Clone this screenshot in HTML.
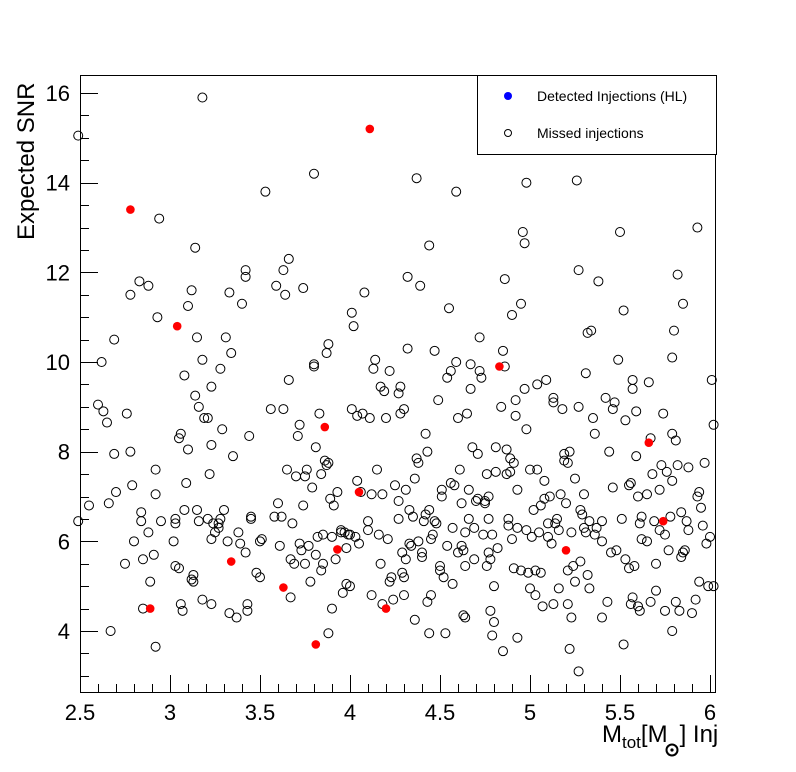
<!DOCTYPE html>
<html><head><meta charset="utf-8"><style>
html,body{margin:0;padding:0;background:#fff;}
svg{display:block;font-family:"Liberation Sans",sans-serif;}
</style></head><body>
<svg id="chart" width="796" height="772" viewBox="0 0 796 772">
<rect x="0" y="0" width="796" height="772" fill="#fff"/>
<g id="axes"></g>
<g id="points"></g>
<g id="legend">
<rect x="477.5" y="75.5" width="239" height="79" fill="#fff" stroke="#000" stroke-width="1"/>
<circle cx="508" cy="96" r="4" fill="#0000ff"/>
<text x="537" y="101" font-size="14">Detected Injections (HL)</text>
<circle cx="508" cy="133" r="3.5" fill="none" stroke="#000"/>
<text x="537" y="138" font-size="14">Missed injections</text>
</g>
<text transform="translate(34,240) rotate(-90)" font-size="24">Expected SNR</text>
<g font-size="24">
<text x="602" y="742">M<tspan font-size="17" dy="6">tot</tspan><tspan dy="-6">[M</tspan><tspan dx="12">] Inj</tspan></text>
<circle cx="672" cy="750" r="5.5" fill="none" stroke="#000" stroke-width="2"/><circle cx="672" cy="750" r="1.6" fill="#000"/>
</g>
</svg>
<script>
const xTicks=[2.5,3,3.5,4,4.5,5,5.5,6];
const xTickLabels=["2.5","3","3.5","4","4.5","5","5.5","6"];
const yTicks=[4,6,8,10,12,14,16];
const yTickLabels=["4","6","8","10","12","14","16"];
const detectedX=[2.78,3.04,2.89,3.34,3.63,3.81,3.86,3.93,4.05,4.11,4.2,4.83,5.2,5.66,5.74];
const detectedY=[13.4,10.8,4.5,5.55,4.97,3.7,8.55,5.82,7.1,15.2,4.5,9.9,5.8,8.2,6.45];
const missed=[[2.49,15.05],[2.49,6.45],[2.55,6.8],[2.6,9.05],[2.62,10.0],[2.63,8.9],[2.65,8.65],[2.66,6.85],[2.67,4.0],[2.69,10.5],[2.69,7.95],[2.7,7.1],[2.75,5.5],[2.76,8.85],[2.78,11.5],[2.78,8.0],[2.79,7.25],[2.8,6.0],[2.83,11.8],[2.84,6.65],[2.84,6.45],[2.85,5.6],[2.85,4.5],[2.88,11.7],[2.88,6.2],[2.89,5.1],[2.91,5.7],[2.92,7.6],[2.92,7.05],[2.92,3.65],[2.93,11.0],[2.94,13.2],[2.95,6.45],[3.02,6.0],[3.03,6.5],[3.03,6.4],[3.03,5.45],[3.05,5.4],[3.05,8.3],[3.06,8.4],[3.06,4.6],[3.07,4.45],[3.08,6.7],[3.08,9.7],[3.09,7.3],[3.1,8.05],[3.1,11.25],[3.12,11.6],[3.12,5.15],[3.13,5.25],[3.13,5.1],[3.14,12.55],[3.14,9.25],[3.15,6.7],[3.15,10.55],[3.16,9.0],[3.16,6.45],[3.18,15.9],[3.18,10.05],[3.18,4.7],[3.19,8.75],[3.21,6.5],[3.21,8.75],[3.22,7.5],[3.23,6.05],[3.23,9.45],[3.23,8.15],[3.23,4.6],[3.24,6.4],[3.25,6.2],[3.27,6.3],[3.27,6.4],[3.28,9.85],[3.28,6.5],[3.29,8.5],[3.3,6.7],[3.31,10.55],[3.32,6.0],[3.33,11.55],[3.33,4.4],[3.34,10.2],[3.35,7.9],[3.37,4.3],[3.38,6.2],[3.39,5.95],[3.4,11.3],[3.42,11.9],[3.42,12.05],[3.42,5.75],[3.43,4.45],[3.43,4.6],[3.44,8.35],[3.45,6.5],[3.45,6.55],[3.48,5.3],[3.5,6.0],[3.5,5.2],[3.51,6.05],[3.53,13.8],[3.56,8.95],[3.58,6.55],[3.59,11.7],[3.6,6.85],[3.61,5.9],[3.62,6.55],[3.63,12.05],[3.63,8.95],[3.64,11.5],[3.65,7.6],[3.66,12.3],[3.66,9.6],[3.67,5.6],[3.67,4.75],[3.68,6.4],[3.69,5.5],[3.7,7.45],[3.71,8.35],[3.72,5.95],[3.72,8.6],[3.73,5.8],[3.74,11.65],[3.74,6.8],[3.75,7.45],[3.75,5.5],[3.76,7.6],[3.77,5.9],[3.78,5.1],[3.79,7.2],[3.8,9.9],[3.8,9.95],[3.8,14.2],[3.81,8.1],[3.81,5.7],[3.82,6.1],[3.83,8.85],[3.84,7.5],[3.84,5.35],[3.85,6.15],[3.85,5.5],[3.86,7.8],[3.87,7.7],[3.87,10.2],[3.88,10.4],[3.88,7.75],[3.88,3.95],[3.89,6.95],[3.9,4.5],[3.9,6.1],[3.91,6.8],[3.92,5.6],[3.93,7.1],[3.95,6.2],[3.95,6.25],[3.96,4.85],[3.97,6.2],[3.98,5.85],[3.98,5.05],[3.99,6.15],[4.0,5.0],[4.0,6.15],[4.01,8.95],[4.01,11.1],[4.02,10.8],[4.03,6.1],[4.04,8.8],[4.04,7.35],[4.05,5.95],[4.06,7.1],[4.07,8.85],[4.08,11.55],[4.1,6.45],[4.1,6.25],[4.11,8.75],[4.12,7.05],[4.12,4.8],[4.13,9.85],[4.14,10.05],[4.15,7.6],[4.16,6.15],[4.17,9.45],[4.17,5.5],[4.18,7.05],[4.18,4.6],[4.19,9.35],[4.2,8.75],[4.21,6.05],[4.22,9.8],[4.22,5.1],[4.23,5.2],[4.24,4.7],[4.25,7.25],[4.27,9.3],[4.27,6.9],[4.27,6.5],[4.28,9.45],[4.28,8.85],[4.29,5.75],[4.29,5.3],[4.3,8.95],[4.3,4.8],[4.3,5.2],[4.31,7.15],[4.31,5.6],[4.32,10.3],[4.32,11.9],[4.33,6.7],[4.33,5.95],[4.34,5.9],[4.35,6.55],[4.36,4.25],[4.36,7.4],[4.37,7.85],[4.37,14.1],[4.38,7.75],[4.38,6.0],[4.39,11.7],[4.4,5.65],[4.4,5.75],[4.41,6.45],[4.42,6.6],[4.42,8.4],[4.43,4.65],[4.43,8.0],[4.44,12.6],[4.44,6.7],[4.44,3.95],[4.45,6.05],[4.45,4.8],[4.46,6.15],[4.47,10.25],[4.47,6.45],[4.48,6.4],[4.49,9.15],[4.5,5.45],[4.5,5.35],[4.51,7.0],[4.51,7.15],[4.52,5.2],[4.53,3.95],[4.54,5.9],[4.54,9.65],[4.55,11.2],[4.56,7.3],[4.56,9.8],[4.57,6.3],[4.57,5.05],[4.58,7.25],[4.59,10.0],[4.59,13.8],[4.6,8.75],[4.6,5.75],[4.61,7.6],[4.62,6.85],[4.62,5.9],[4.63,5.8],[4.63,4.35],[4.64,4.3],[4.64,6.2],[4.64,5.45],[4.65,8.85],[4.66,7.15],[4.66,6.5],[4.67,9.95],[4.67,9.4],[4.68,8.1],[4.69,5.6],[4.69,6.3],[4.7,6.9],[4.71,6.95],[4.71,7.95],[4.72,9.8],[4.72,10.55],[4.73,9.65],[4.74,6.15],[4.75,6.9],[4.75,6.85],[4.76,7.5],[4.76,5.45],[4.77,5.75],[4.77,7.0],[4.77,6.5],[4.78,5.6],[4.78,4.45],[4.79,3.9],[4.79,6.15],[4.8,5.0],[4.8,4.2],[4.81,8.1],[4.81,7.55],[4.82,5.85],[4.84,9.0],[4.85,3.55],[4.85,10.25],[4.86,9.9],[4.86,11.85],[4.87,7.5],[4.87,8.05],[4.88,6.5],[4.88,6.35],[4.89,7.55],[4.89,7.85],[4.9,11.05],[4.9,6.05],[4.91,7.75],[4.91,5.4],[4.92,9.15],[4.92,8.8],[4.93,7.15],[4.93,6.3],[4.93,3.85],[4.95,5.35],[4.95,11.3],[4.96,12.9],[4.97,12.65],[4.97,9.4],[4.98,6.25],[4.98,8.5],[4.98,14.0],[4.99,5.3],[5.0,4.95],[5.0,7.6],[5.01,6.1],[5.02,6.7],[5.03,4.8],[5.03,5.35],[5.04,9.5],[5.04,7.6],[5.05,6.2],[5.06,6.8],[5.06,5.3],[5.07,4.55],[5.08,7.35],[5.08,6.95],[5.09,9.6],[5.1,6.1],[5.1,6.4],[5.11,7.0],[5.12,5.95],[5.13,4.6],[5.13,9.1],[5.13,9.2],[5.14,6.4],[5.15,6.5],[5.16,6.25],[5.16,4.95],[5.17,7.05],[5.18,8.95],[5.19,7.95],[5.19,7.8],[5.2,6.85],[5.21,5.35],[5.21,7.75],[5.21,4.6],[5.22,3.6],[5.22,8.0],[5.23,4.3],[5.23,6.2],[5.24,5.45],[5.25,5.1],[5.25,7.4],[5.26,14.05],[5.27,3.1],[5.27,9.0],[5.27,12.05],[5.28,6.7],[5.28,5.55],[5.29,6.6],[5.3,6.3],[5.3,7.05],[5.31,9.75],[5.31,6.2],[5.32,10.65],[5.32,5.25],[5.33,6.45],[5.33,4.95],[5.34,10.7],[5.35,8.75],[5.36,8.4],[5.36,6.15],[5.37,6.3],[5.38,11.8],[5.4,6.45],[5.4,4.3],[5.4,6.0],[5.42,9.2],[5.43,4.65],[5.44,8.0],[5.45,5.75],[5.46,7.2],[5.46,8.95],[5.47,9.1],[5.48,5.8],[5.49,10.05],[5.5,12.9],[5.51,6.5],[5.52,11.15],[5.52,3.7],[5.53,5.6],[5.53,8.7],[5.55,5.4],[5.55,7.25],[5.56,7.3],[5.56,4.6],[5.57,9.6],[5.57,4.75],[5.57,9.4],[5.58,5.45],[5.59,7.9],[5.59,8.9],[5.6,4.55],[5.6,7.0],[5.61,4.45],[5.61,6.4],[5.62,6.05],[5.62,6.55],[5.65,6.0],[5.65,7.05],[5.66,9.55],[5.67,4.65],[5.67,8.3],[5.68,7.5],[5.69,6.45],[5.7,5.5],[5.7,4.9],[5.72,7.15],[5.72,6.25],[5.73,7.7],[5.74,8.85],[5.75,4.45],[5.75,6.15],[5.76,7.55],[5.77,5.8],[5.78,6.55],[5.79,8.4],[5.79,10.1],[5.79,7.35],[5.79,4.0],[5.8,10.7],[5.81,8.25],[5.81,4.65],[5.82,7.7],[5.82,11.95],[5.83,4.45],[5.84,5.65],[5.84,6.65],[5.85,5.75],[5.85,11.3],[5.86,5.8],[5.87,6.45],[5.88,7.65],[5.88,6.25],[5.9,4.4],[5.92,4.7],[5.93,13.0],[5.93,7.0],[5.94,5.1],[5.94,7.1],[5.95,6.75],[5.96,6.35],[5.97,7.75],[5.98,5.95],[5.99,5.0],[6.0,6.1],[6.01,9.6],[6.02,8.6],[6.02,5.0]];

const NS='http://www.w3.org/2000/svg';
const L=80,R=716,T=75,B=693;
function sx(v){return 80+(v-2.5)*180;}
function sy(v){return 631-(v-4)*44.83;}
function mk(tag,attrs,parent){const e=document.createElementNS(NS,tag);for(const k in attrs)e.setAttribute(k,attrs[k]);parent.appendChild(e);return e;}
const axes=document.getElementById('axes');
const frame=mk('rect',{x:L+0.5,y:T+0.5,width:R-L-1,height:B-T-1,fill:'none',stroke:'#000','stroke-width':1},axes);


for(let i=0;i<=36;i++){const v=2.5+i*0.1;const x=Math.round(sx(v))+0.5;if(x>R)break;const major=(i%5===0);
 const t=mk('line',{x1:x,x2:x,y1:B,y2:B-(major?18:9),stroke:'#000','stroke-width':1},axes);
 
 }
xTicks.forEach((v,i)=>{const t=mk('text',{x:sx(v),y:720,'font-size':22,'text-anchor':'middle'},axes);t.textContent=xTickLabels[i];
 
 });
for(let v=3;v<=16.4;v+=0.5){const y=Math.round(sy(v))+0.5;if(y<T||y>B)continue;const major=Math.abs(v-Math.round(v))<1e-6&&Math.round(v)%2===0;
 const t=mk('line',{x1:L,x2:L+(major?18:9),y1:y,y2:y,stroke:'#000','stroke-width':1},axes);
 
 }
yTicks.forEach((v,i)=>{const t=mk('text',{x:70,y:sy(v)+8,'font-size':22,'text-anchor':'end'},axes);t.textContent=yTickLabels[i];
 
 });
const pts=document.getElementById('points');
missed.forEach(p=>{const c=mk('circle',{cx:sx(p[0]),cy:sy(p[1]),r:4.5,fill:'none',stroke:'#000','stroke-width':1},pts);
 
 });
detectedX.forEach((x,i)=>{const c=mk('circle',{cx:sx(x),cy:sy(detectedY[i]),r:4.3,fill:'#ff0000'},pts);
 
 });
</script>
</body></html>
